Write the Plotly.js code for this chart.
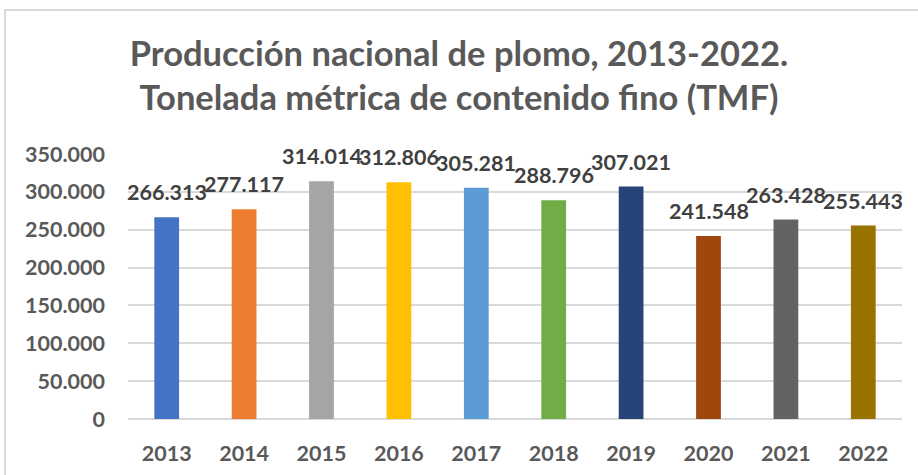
<!DOCTYPE html>
<html>
<head>
<meta charset="utf-8">
<script src="https://cdn.plot.ly/plotly-3.0.1.min.js"></script>
<style>
html,body{margin:0;padding:0;background:#fff;overflow:hidden;}
#frame{position:absolute;left:4px;top:9px;width:930px;height:480px;border:2px solid #d9d9d9;box-sizing:border-box;}
#chart{position:absolute;left:0;top:0;width:918px;height:475px;}
</style>
</head>
<body>
<div id="frame"></div>
<div id="chart"></div>
<script>
const years = ['2013','2014','2015','2016','2017','2018','2019','2020','2021','2022'];
const values = [266313, 277117, 314014, 312806, 305281, 288796, 307021, 241548, 263428, 255443];
const colors = ['#4472C4','#ED7D31','#A5A5A5','#FFC000','#5B9BD5','#70AD47','#264478','#9E480E','#636363','#997300'];
const tickVals = [0,50000,100000,150000,200000,250000,300000,350000];
const tickText = ['0','50.000','100.000','150.000','200.000','250.000','300.000','350.000'];
const fmt = v => v.toLocaleString('de-DE');
const FONT = 'Lato, "Open Sans", sans-serif';

const trace = {
  type:'bar', x: years, y: values,
  marker:{color: colors},
  hoverinfo:'none'
};

const annotations = years.map((yr,i)=>({
  x: i, y: values[i], xref:'x', yref:'y',
  text: fmt(values[i]), showarrow:false,
  yanchor:'middle', yshift:25,
  font:{family:FONT, size:21.5, color:'#404040', weight:'bold'}
}));
annotations.push({
  xref:'paper', yref:'paper', x:0.443, y:1.555, xanchor:'center', yanchor:'bottom',
  text:'GRÁFICO 4', showarrow:false,
  font:{family:FONT, size:24, color:'#000', weight:'bold'}
});

const layout = {
  width:918, height:475,
  margin:{l:128, r:16, t:154, b:56},
  paper_bgcolor:'rgba(0,0,0,0)', plot_bgcolor:'rgba(0,0,0,0)',
  title:{
    text:'Producción nacional de plomo, 2013-2022.<br>Tonelada métrica de contenido fino (TMF)',
    font:{family:FONT, size:34.5, color:'#595959', weight:'bold'},
    x:0.5, xanchor:'center', y:0.862, yanchor:'middle'
  },
  bargap:0.68,
  showlegend:false,
  xaxis:{
    type:'category', range:[-0.5,9.5], tickfont:{family:FONT, size:21.5, color:'#595959', weight:'bold'},
    showline:false, showgrid:false, ticks:'', ticklabelstandoff:19, fixedrange:true
  },
  yaxis:{
    range:[0,350000], tickvals:tickVals, ticktext:tickText,
    tickfont:{family:FONT, size:21.5, color:'#595959', weight:'bold'},
    showgrid:true, gridcolor:'#d9d9d9', gridwidth:2,
    zeroline:true, zerolinecolor:'#d9d9d9', zerolinewidth:2,
    ticks:'', ticklabelstandoff:22, fixedrange:true
  },
  annotations: annotations
};

Plotly.newPlot('chart',[trace],layout,{displayModeBar:false, staticPlot:true});
</script>
</body>
</html>
